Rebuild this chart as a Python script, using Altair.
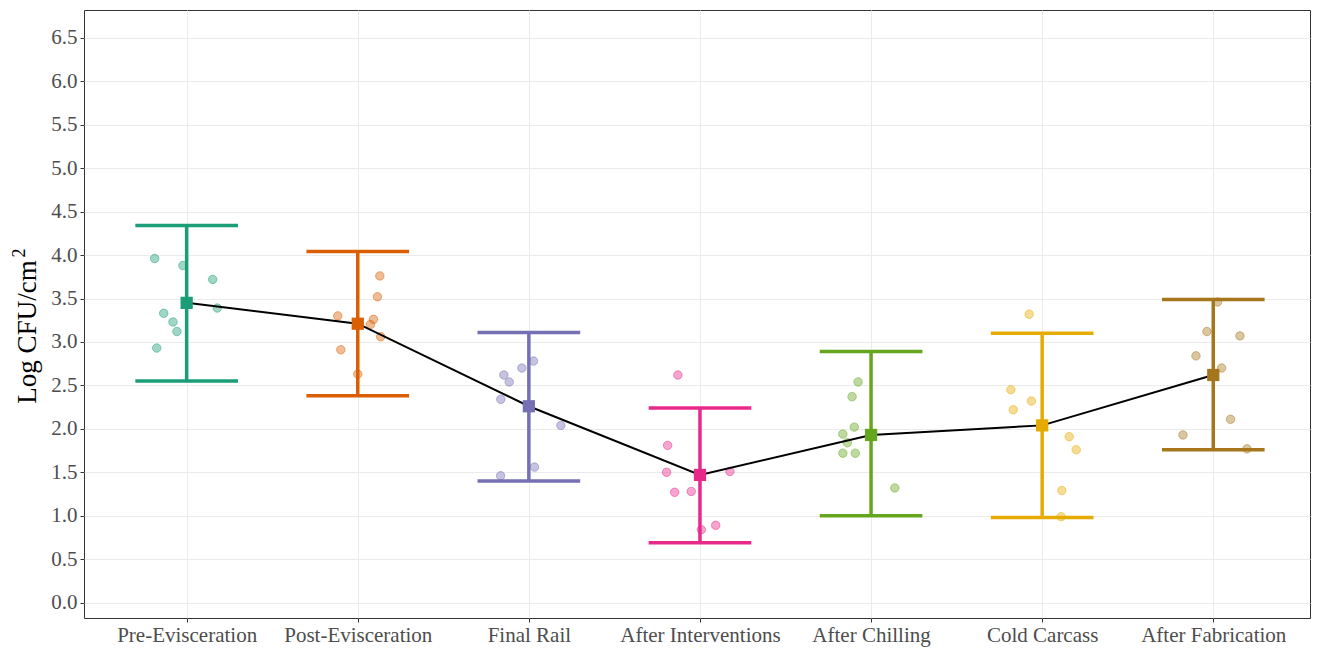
import altair as alt
import pandas as pd

categories = ["Pre-Evisceration", "Post-Evisceration", "Final Rail", "After Interventions",
              "After Chilling", "Cold Carcass", "After Fabrication"]
colors = ["#1B9E77", "#D95F02", "#7570B3", "#E7298A", "#66A61E", "#E6AB02", "#A6761D"]

means = [3.45, 3.21, 2.26, 1.47, 1.93, 2.04, 2.62]
upper = [4.34, 4.04, 3.11, 2.24, 2.89, 3.10, 3.49]
lower = [2.55, 2.38, 1.40, 0.69, 1.00, 0.98, 1.76]

# observed points (value, horizontal jitter in category units)
pts_y = [
    [3.96, 3.88, 3.72, 3.39, 3.33, 3.23, 3.12, 2.93],
    [3.76, 3.52, 3.30, 3.26, 3.20, 3.06, 2.91, 2.63],
    [2.78, 2.70, 2.62, 2.54, 2.34, 2.04, 1.56, 1.46],
    [2.62, 1.81, 1.50, 1.51, 1.27, 1.28, 0.89, 0.84],
    [2.54, 2.37, 2.02, 1.94, 1.84, 1.72, 1.72, 1.32],
    [3.32, 2.45, 2.32, 2.22, 1.91, 1.76, 1.29, 0.99],
    [3.46, 3.12, 3.07, 2.84, 2.70, 2.11, 1.93, 1.77],
]
pts_jit = [
    [-0.187, -0.022, 0.152, 0.179, -0.134, -0.080, -0.057, -0.175],
    [0.129, 0.115, -0.117, 0.092, 0.074, 0.134, -0.099, 0.000],
    [0.027, -0.041, -0.146, -0.115, -0.164, 0.187, 0.033, -0.165],
    [-0.129, -0.189, -0.195, 0.175, -0.148, -0.051, 0.092, 0.008],
    [-0.076, -0.111, -0.098, -0.165, -0.139, -0.165, -0.092, 0.139],
    [-0.076, -0.183, -0.063, -0.169, 0.158, 0.199, 0.115, 0.111],
    [0.025, -0.037, 0.156, -0.101, 0.049, 0.101, -0.177, 0.197],
]

y_title = "Log CFU/cm"
y_title_sup = "2"

summary = pd.DataFrame({
    "cat": categories,
    "pos": list(range(1, len(categories) + 1)),
    "mean": means, "upper": upper, "lower": lower,
})
summary["cap_l"] = summary["pos"] - 0.3
summary["cap_r"] = summary["pos"] + 0.3

rows = []
for i, cat in enumerate(categories):
    for v, j in zip(pts_y[i], pts_jit[i]):
        rows.append({"cat": cat, "xp": i + 1 + j, "val": v})
points = pd.DataFrame(rows)

W, H = 1226, 608
PX_X, PX_Y = 171.1, 86.9
labels_js = "[" + ",".join('"%s"' % c for c in categories) + "]"
xscale = alt.Scale(domain=[0.4, 0.4 + W / PX_X], nice=False, zero=False)
yscale = alt.Scale(domain=[6.82 - H / PX_Y, 6.82], nice=False, zero=False)
cscale = alt.Scale(domain=categories, range=colors)

FONT = "Liberation Serif"
xaxis = alt.Axis(values=list(range(1, 8)), labelExpr=labels_js + "[datum.value-1]",
                 title=None, grid=True, gridColor="#EBEBEB", tickColor="#333333",
                 tickSize=4, domain=False, labelFont=FONT, labelFontSize=21,
                 labelColor="#4D4D4D", labelPadding=2)
yaxis = alt.Axis(values=[i * 0.5 for i in range(14)], format=".1f", title=None,
                 grid=True, gridColor="#EBEBEB", tickColor="#333333", tickSize=4,
                 domain=False, labelFont=FONT, labelFontSize=21,
                 labelColor="#4D4D4D", labelPadding=3)

base = alt.Chart(summary)

pts = alt.Chart(points).mark_circle(size=72, fillOpacity=0.42, strokeOpacity=0.6, strokeWidth=0.8).encode(
    x=alt.X("xp:Q", scale=xscale, axis=xaxis),
    y=alt.Y("val:Q", scale=yscale, axis=yaxis),
    color=alt.Color("cat:N", scale=cscale, legend=None),
    stroke=alt.Stroke("cat:N", scale=cscale, legend=None),
)

vbar = base.mark_rule(strokeWidth=3.5).encode(
    x=alt.X("pos:Q", scale=xscale), y=alt.Y("lower:Q", scale=yscale), y2="upper:Q",
    color=alt.Color("cat:N", scale=cscale, legend=None))
topcap = base.mark_rule(strokeWidth=3.5).encode(
    x=alt.X("cap_l:Q", scale=xscale), x2="cap_r:Q", y=alt.Y("upper:Q", scale=yscale),
    color=alt.Color("cat:N", scale=cscale, legend=None))
botcap = base.mark_rule(strokeWidth=3.5).encode(
    x=alt.X("cap_l:Q", scale=xscale), x2="cap_r:Q", y=alt.Y("lower:Q", scale=yscale),
    color=alt.Color("cat:N", scale=cscale, legend=None))

line = base.mark_line(color="black", strokeWidth=2).encode(
    x=alt.X("pos:Q", scale=xscale), y=alt.Y("mean:Q", scale=yscale), order="pos:Q")

sq = base.mark_square(size=150, opacity=1).encode(
    x=alt.X("pos:Q", scale=xscale), y=alt.Y("mean:Q", scale=yscale),
    color=alt.Color("cat:N", scale=cscale, legend=None))

title_main = alt.Chart(pd.DataFrame({"t": [y_title]})).mark_text(
    angle=270, align="center", baseline="alphabetic", font=FONT, fontSize=27, color="black"
).encode(text="t:N", x=alt.value(-48), y=alt.value(322))
title_sup = alt.Chart(pd.DataFrame({"t": [y_title_sup]})).mark_text(
    angle=270, align="center", baseline="alphabetic", font=FONT, fontSize=18, color="black"
).encode(text="t:N", x=alt.value(-59), y=alt.value(243))

chart = alt.layer(vbar, topcap, botcap, pts, line, sq, title_main, title_sup).properties(
    width=W, height=H,
    autosize=alt.AutoSizeParams(type="none"),
    padding={"left": 76, "top": 2, "right": 1, "bottom": 33},
    background="white",
).configure_view(stroke="#333333", strokeWidth=1)

chart.save("out.html", embed_options={"renderer": "svg", "actions": False})
